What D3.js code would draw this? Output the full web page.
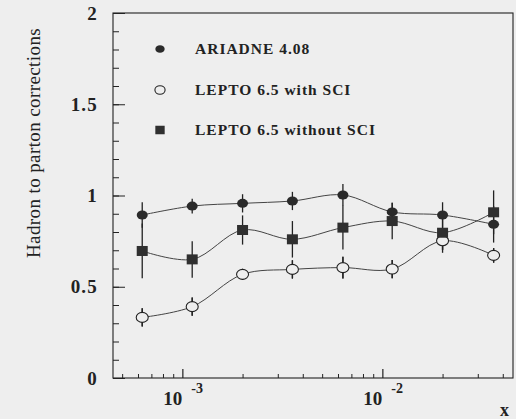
<!DOCTYPE html>
<html><head><meta charset="utf-8">
<script src="https://cdn.jsdelivr.net/npm/d3@7"></script>
<style>
html,body{margin:0;padding:0;background:#eeeeee;}
svg{display:block;}
</style></head>
<body>
<svg id="c" width="516" height="419"></svg>
<script>
// ---- data ----
const xBins = [6.3e-4, 1.12e-3, 2.0e-3, 3.55e-3, 6.35e-3, 1.12e-2, 2.0e-2, 3.6e-2];
const ariadne = [0.893, 0.942, 0.957, 0.970, 1.003, 0.91, 0.893, 0.842];
const ariadneErr = [0.07, 0.04, 0.05, 0.05, 0.06, 0.05, 0.07, 0.1];
const leptoSCI = [0.332, 0.391, 0.568, 0.595, 0.605, 0.597, 0.752, 0.672];
const leptoSCIErr = [0.05, 0.05, 0.03, 0.05, 0.06, 0.05, 0.05, 0.04];
const leptoNoSCI = [0.696, 0.650, 0.811, 0.760, 0.824, 0.86, 0.796, 0.908];
const leptoNoSCIErr = [0.15, 0.1, 0.08, 0.1, 0.12, 0.1, 0.11, 0.12];
const legendLabels = ["ARIADNE 4.08", "LEPTO 6.5 with SCI", "LEPTO 6.5 without SCI"];
const yTickLabels = ["0", "0.5", "1", "1.5", "2"];
const yTickValues = [0, 0.5, 1, 1.5, 2];
const xMajor = [1e-3, 1e-2];
const xMajorExp = ["-3", "-2"];

// ---- layout ----
const svg = d3.select("#c");
const L = 113, R = 513, T = 13, B = 378;
const x = d3.scaleLog().domain([4.5e-4, 4.5e-2]).range([L, R]);
const y = d3.scaleLinear().domain([0, 2]).range([B, T]);
const ink = "#222";
const serif = "'Liberation Serif','DejaVu Serif',serif";

// frame
svg.append("rect").attr("x", L).attr("y", T).attr("width", R - L).attr("height", B - T)
  .attr("fill", "none").attr("stroke", ink).attr("stroke-width", 1.1);

// x axis ticks (inward)
const xMinor = [];
for (let d = -4; d <= -2; d++) for (let m = 2; m <= 9; m++) {
  const v = m * Math.pow(10, d);
  if (v > 4.5e-4 && v < 4.5e-2) xMinor.push(v);
}
svg.append("g").attr("transform", `translate(0,${B})`)
  .call(d3.axisBottom(x).tickValues(xMinor).tickSize(-4).tickFormat(""))
  .call(g => { g.select(".domain").remove(); g.selectAll("line").attr("stroke", ink); });
svg.append("g").attr("transform", `translate(0,${B})`)
  .call(d3.axisBottom(x).tickValues(xMajor).tickSize(-9).tickFormat(""))
  .call(g => { g.select(".domain").remove(); g.selectAll("line").attr("stroke", ink).attr("stroke-width", 1.2); });

// y axis ticks (inward)
const yMinor = d3.range(0, 2.0001, 0.1).map(v => +v.toFixed(1));
svg.append("g").attr("transform", `translate(${L},0)`)
  .call(d3.axisLeft(y).tickValues(yMinor).tickSize(-6).tickFormat(""))
  .call(g => { g.select(".domain").remove(); g.selectAll("line").attr("stroke", ink); });
svg.append("g").attr("transform", `translate(${L},0)`)
  .call(d3.axisLeft(y).tickValues(yTickValues).tickSize(-12).tickFormat(""))
  .call(g => { g.select(".domain").remove(); g.selectAll("line").attr("stroke", ink); });

// y tick labels
svg.append("g").selectAll("text").data(yTickValues).join("text")
  .attr("x", 98).attr("y", d => y(d)).attr("dy", "0.35em")
  .attr("text-anchor", "end").attr("font-family", serif).attr("font-weight", "bold")
  .attr("font-size", 19).attr("letter-spacing", 1.2).attr("fill", ink)
  .text((d, i) => yTickLabels[i]);

// x tick labels 10^-n
xMajor.forEach((v, i) => {
  const t = svg.append("text").attr("x", x(v) - 19).attr("y", 405)
    .attr("font-family", serif).attr("font-weight", "bold").attr("font-size", 19).attr("fill", ink);
  t.append("tspan").text("10");
  t.append("tspan").attr("dx", 9).attr("dy", -12).attr("font-size", 14).text(xMajorExp[i]);
});
svg.append("text").attr("x", 500).attr("y", 416).attr("font-family", serif)
  .attr("font-weight", "bold").attr("font-size", 18).attr("fill", ink).text("x");

// y title
svg.append("text").attr("transform", "translate(40,143) rotate(-90)")
  .attr("text-anchor", "middle").attr("font-family", serif).attr("font-size", 19)
  .attr("letter-spacing", 0.4).attr("fill", ink).text("Hadron to parton corrections");

// ---- series ----
const series = [
  { vals: ariadne, err: ariadneErr, kind: "fcirc" },
  { vals: leptoSCI, err: leptoSCIErr, kind: "ocirc" },
  { vals: leptoNoSCI, err: leptoNoSCIErr, kind: "square" }
];
const line = d3.line().x(d => x(d[0])).y(d => y(d[1])).curve(d3.curveCatmullRom.alpha(0.5));

series.forEach(s => {
  const pts = xBins.map((xv, i) => [xv, s.vals[i]]);
  svg.append("path").attr("d", line(pts)).attr("fill", "none")
    .attr("stroke", "#444").attr("stroke-width", 1);
});
series.forEach(s => {
  const g = svg.append("g");
  g.selectAll("line").data(xBins).join("line")
    .attr("x1", d => x(d)).attr("x2", d => x(d))
    .attr("y1", (d, i) => y(s.vals[i] - s.err[i])).attr("y2", (d, i) => y(s.vals[i] + s.err[i]))
    .attr("stroke", ink).attr("stroke-width", 1.3);
});
function drawMarker(g, kind, cx, cy, scale) {
  if (kind === "fcirc") {
    g.append("ellipse").attr("cx", cx).attr("cy", cy).attr("rx", 5.5 * scale).attr("ry", 4.5 * scale)
      .attr("fill", "#2a2a2a");
  } else if (kind === "ocirc") {
    g.append("ellipse").attr("cx", cx).attr("cy", cy).attr("rx", 6 * scale).attr("ry", 5 * scale)
      .attr("fill", "#eeeeee").attr("stroke", ink).attr("stroke-width", 1.1);
  } else {
    g.append("rect").attr("x", cx - 5.5 * scale).attr("y", cy - 5 * scale)
      .attr("width", 11 * scale).attr("height", 10 * scale).attr("fill", "#2f2f2f");
  }
}
// markers: open circles under the others
[1, 2, 0].forEach(k => {
  const s = series[k];
  const g = svg.append("g");
  xBins.forEach((xv, i) => drawMarker(g, s.kind, x(xv), y(s.vals[i]), 1));
  if (s.kind === "ocirc") {
    xBins.forEach((xv, i) => {
      g.append("line").attr("x1", x(xv)).attr("x2", x(xv))
        .attr("y1", y(s.vals[i] - s.err[i])).attr("y2", y(s.vals[i]) + 5).attr("stroke", ink).attr("stroke-width", 1.3);
      g.append("line").attr("x1", x(xv)).attr("x2", x(xv))
        .attr("y1", y(s.vals[i]) - 5).attr("y2", y(s.vals[i] + s.err[i])).attr("stroke", ink).attr("stroke-width", 1.3);
    });
  }
});

// ---- legend ----
const legY = [49, 90, 130];
const leg = svg.append("g");
series.forEach((s, i) => {
  drawMarker(leg, s.kind, 160, legY[i], 0.85);
  leg.append("text").attr("x", 195).attr("y", legY[i] + 5).attr("font-family", serif)
    .attr("font-weight", "bold").attr("font-size", 15.5).attr("letter-spacing", 1)
    .attr("fill", ink).text(legendLabels[i]);
});
</script>
</body></html>
